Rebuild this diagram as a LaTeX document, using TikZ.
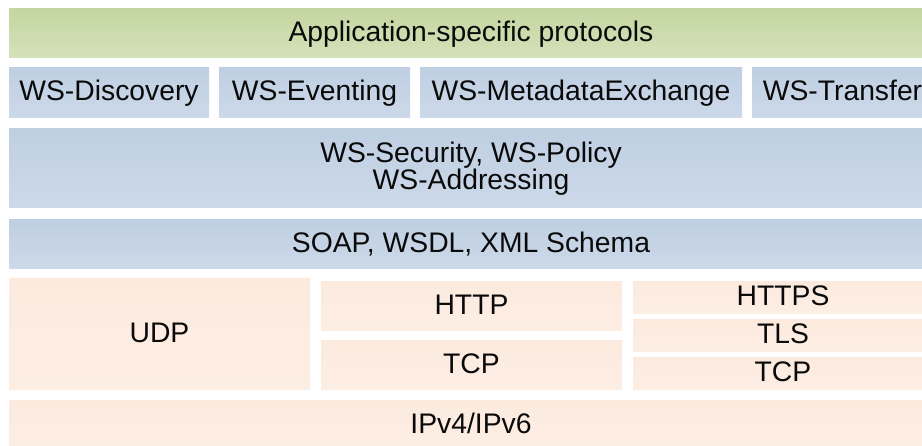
\documentclass[tikz,border=0pt]{standalone}
\usepackage{fontspec}
\setmainfont{Liberation Sans}
\definecolor{gtop}{HTML}{C4D6A1}
\definecolor{gbot}{HTML}{D4E2BA}
\definecolor{btop}{HTML}{BFCFE2}
\definecolor{bbot}{HTML}{CCD9E9}
\definecolor{ptop}{HTML}{FCEADE}
\definecolor{pbot}{HTML}{FDEEE4}
\definecolor{txt}{HTML}{0A0A0A}
\tikzset{
  layer/.style={inner sep=0pt, font=\fontsize{28.3}{27}\selectfont, text=txt, text height=20pt, text depth=4pt},
  green/.style={layer, top color=gtop, bottom color=gbot},
  blue/.style={layer, top color=btop, bottom color=bbot},
  peach/.style={layer, top color=ptop, bottom color=pbot},
}
\newcommand{\layerbox}[7]{% name, style, x1, y1, x2, y2, text
  \pgfmathsetmacro{\lw}{#5-#3}\pgfmathsetmacro{\lh}{#6-#4}%
  \node[#2, minimum width=\lw pt, minimum height=\lh pt] (#1) at ({(#3+#5)/2},{(#4+#6)/2}) {#7};}
\begin{document}
\begin{tikzpicture}[x=1pt,y=-1pt]
\clip (0,0) rectangle (922,446);
\fill[white] (0,0) rectangle (922,446);
\layerbox{app}{green}{9}{9}{933}{58}{Application-specific protocols}
\layerbox{wsd}{blue}{9}{68}{209}{118}{WS-Discovery}
\layerbox{wse}{blue}{219}{68}{410}{118}{WS-Eventing}
\layerbox{wsm}{blue}{420}{68}{742}{118}{WS-MetadataExchange}
\layerbox{wst}{blue}{752}{68}{933}{118}{WS-Transfer}
\node[inner sep=0pt, top color=btop, bottom color=bbot, minimum width=924pt, minimum height=79pt,
  text=txt, font=\fontsize{28.3}{27}\selectfont, align=center] (sec) at (471,168.5)
  {WS-Security, WS-Policy\\WS-Addressing};
\layerbox{soap}{blue}{9}{220}{933}{269}{SOAP, WSDL, XML Schema}
\layerbox{udp}{peach}{9}{279}{310}{390}{UDP}
\layerbox{http}{peach}{321}{282}{622}{331}{HTTP}
\layerbox{tcpa}{peach}{321}{341}{622}{390}{TCP}
\layerbox{https}{peach}{633}{282}{933}{314}{HTTPS}
\layerbox{tls}{peach}{633}{320}{933}{352}{TLS}
\layerbox{tcpb}{peach}{633}{358}{933}{390}{TCP}
\layerbox{ip}{peach}{9}{401}{933}{450}{IPv4/IPv6}
\end{tikzpicture}
\end{document}
